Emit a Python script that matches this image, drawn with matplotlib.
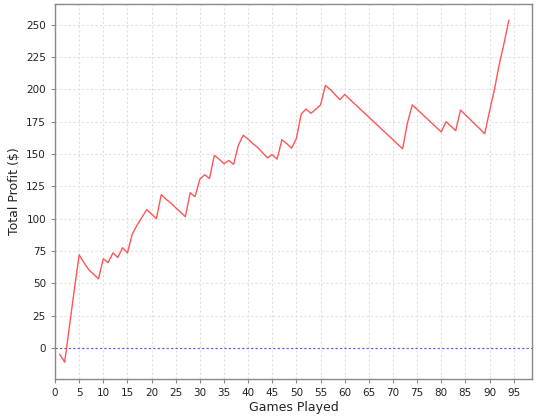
import matplotlib
matplotlib.use("Agg")
import matplotlib.pyplot as plt
import numpy as np

games = list(range(1, 95))
profit = [
    -5, -11, 17, 45, 72, 66, 60.5, 57, 53.5, 69,
    66, 73.5, 70, 77.5, 73.5, 88, 95, 101, 107, 103.5,
    100, 118.5, 115, 112, 108.5, 105, 101.5, 120, 117, 130.5,
    134, 131, 149, 146, 142.5, 145, 142, 157, 164.5, 161.5,
    158, 155, 151, 147, 149.5, 146, 161, 158, 154.5, 162,
    181, 184.7, 181.5, 184.5, 188, 203, 200, 196, 192, 196,
    192.5, 189, 185.5, 182, 178.5, 175, 171.5, 168, 164.5, 161,
    157.5, 154, 174, 188, 184.5, 181, 177.5, 174, 170.5, 167,
    175, 171.5, 168, 184, 180.3, 176.7, 173, 169.4, 165.6, 183,
    199.5, 219, 235.5, 253.3,
]
x_ticks = list(range(0, 100, 5))
y_ticks = list(range(0, 275, 25))

fig = plt.figure(figsize=(5.4, 4.2), dpi=100)
ax = fig.add_axes([55/540, 1 - 379/420, (532-55)/540, (379-4)/420])

ax.plot(games, profit, color="#FF5555", linewidth=1.0, zorder=3)
ax.axhline(0, color="#5555FF", linewidth=0.8, linestyle=(0, (2, 2)), zorder=2)

ax.set_xlim(0, 98.8)
ax.set_ylim(-24, 266)
ax.set_xticks(x_ticks)
ax.set_yticks(y_ticks)
ax.grid(True, color="#E0E0E0", linestyle=(0, (2, 2)), linewidth=0.8)
ax.set_axisbelow(True)

for s in ax.spines.values():
    s.set_color("#888888")
    s.set_linewidth(1.0)

ax.tick_params(axis="both", labelsize=7.5, colors="#888888", length=3, width=0.8,
               labelcolor="#222222")
ax.set_xlabel("Games Played", fontsize=9, color="#222222", labelpad=2)
ax.set_ylabel("Total Profit ($)", fontsize=9, color="#222222", labelpad=4)

fig.savefig("out.png", dpi=100)
